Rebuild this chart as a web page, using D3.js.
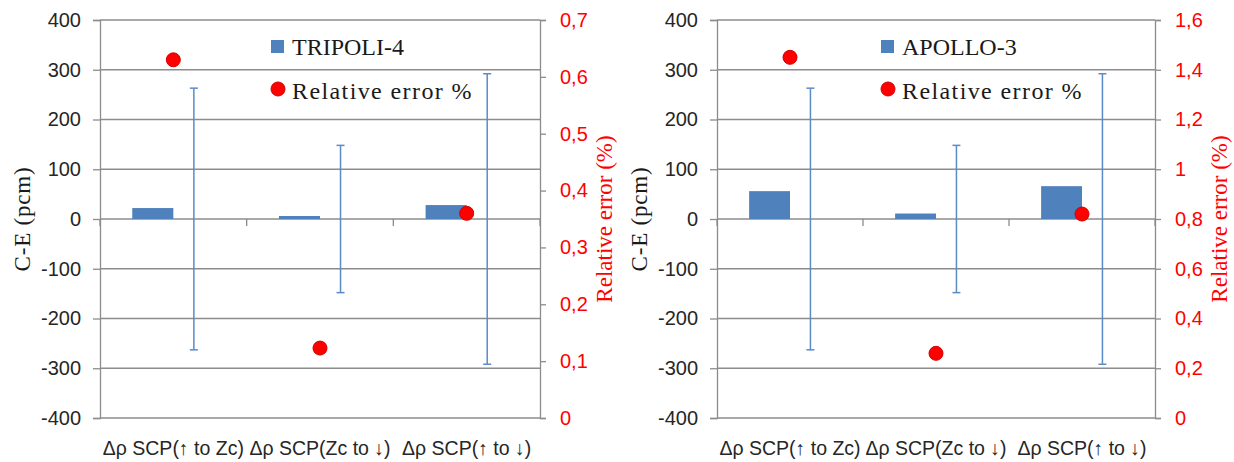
<!DOCTYPE html>
<html>
<head>
<meta charset="utf-8">
<script src="https://cdn.jsdelivr.net/npm/d3@7"></script>
<style>
  body { margin: 0; background: #fff; }
  svg { display: block; }
</style>
</head>
<body>
<div id="chart"></div>
<script>
// values
var categories = ["Δρ SCP(↑ to Zc)", "Δρ SCP(Zc to ↓)", "Δρ SCP(↑ to ↓)"];
var tripoliCE = [22, 6, 28];
var apolloCE = [56, 11, 66];
var expUncertainty = [263, 148, 292];      // error bars around 0 (pcm)
var tripoliRelErr = [0.63, 0.123, 0.36];
var apolloRelErr = [1.45, 0.26, 0.82];
var ceTicks = [-400, -300, -200, -100, 0, 100, 200, 300, 400];
var tripoliErrTicks = [0, 0.1, 0.2, 0.3, 0.4, 0.5, 0.6, 0.7];
var apolloErrTicks = [0, 0.2, 0.4, 0.6, 0.8, 1, 1.2, 1.4, 1.6];

var width = 1234, height = 462;
var top_ = 20, bottom = 418;
var serif = "'Liberation Serif', 'DejaVu Serif', serif";
var sans = "'Liberation Sans', Arial, sans-serif";

var svg = d3.select("#chart")
  .append("svg")
    .attr("width", width)
    .attr("height", height);

var comma = function(d) { return d3.format(".1~f")(d).replace(".", ","); };
var plain = function(d) { return String(d); };   // keep ascii hyphen like Excel

function drawPanel(opts) {
  var g = svg.append("g");

  var x = d3.scaleBand()
    .domain(categories)
    .range([opts.left, opts.right])
    .paddingInner(0.44)
    .paddingOuter(0.22);

  var x1 = d3.scaleBand()
    .domain(["value", "spread"])
    .range([0, x.bandwidth()]);

  var y = d3.scaleLinear()
    .domain([-400, 400])
    .range([bottom, top_]);

  var y2 = d3.scaleLinear()
    .domain([0, d3.max(opts.errTicks)])
    .range([bottom, top_]);

  // gridlines
  g.append("g")
    .selectAll("line")
    .data(ceTicks)
    .join("line")
      .attr("x1", opts.left)
      .attr("x2", opts.right)
      .attr("y1", d => y(d))
      .attr("y2", d => y(d))
      .attr("stroke", "#8c8c8c")
      .attr("stroke-width", 1.3);

  // left axis
  var ya = g.append("g")
    .attr("transform", `translate(${opts.left},0)`)
    .call(d3.axisLeft(y).tickValues(ceTicks).tickSize(7).tickPadding(12).tickFormat(plain));
  ya.select(".domain").attr("stroke", "#8c8c8c").attr("stroke-width", 1.3);
  ya.selectAll(".tick line").attr("stroke", "#8c8c8c").attr("stroke-width", 1.3);
  ya.selectAll("text")
    .style("font-family", sans)
    .style("font-size", "20px")
    .attr("fill", "#262626");

  // right axis
  var yb = g.append("g")
    .attr("transform", `translate(${opts.right},0)`)
    .call(d3.axisRight(y2).tickValues(opts.errTicks).tickSize(6).tickPadding(14).tickFormat(comma));
  yb.select(".domain").attr("stroke", "#8c8c8c").attr("stroke-width", 1.3);
  yb.selectAll(".tick line").attr("stroke", "#8c8c8c").attr("stroke-width", 1.3);
  yb.selectAll("text")
    .style("font-family", sans)
    .style("font-size", "20px")
    .attr("fill", "#ff0000");

  // category tick marks on the zero line
  var bounds = d3.range(categories.length + 1).map(i => opts.left + i * x.step());
  g.append("g")
    .selectAll("line")
    .data(bounds)
    .join("line")
      .attr("x1", d => d)
      .attr("x2", d => d)
      .attr("y1", y(0))
      .attr("y2", y(0) + 7)
      .attr("stroke", "#8c8c8c")
      .attr("stroke-width", 1.3);

  // category labels at the bottom
  g.append("g")
    .selectAll("text")
    .data(categories)
    .join("text")
      .attr("x", d => x(d) + x.bandwidth() / 2)
      .attr("y", 455)
      .attr("text-anchor", "middle")
      .style("font-family", sans)
      .style("font-size", "19.5px")
      .attr("fill", "#262626")
      .text(d => d);

  // bars
  g.append("g")
    .selectAll("rect")
    .data(opts.ce)
    .join("rect")
      .attr("x", (d, i) => x(categories[i]) + x1("value"))
      .attr("y", d => y(Math.max(0, d)))
      .attr("width", x1.bandwidth())
      .attr("height", d => Math.abs(y(d) - y(0)))
      .attr("fill", "#4f81bd");

  // error bars (invisible zero series)
  var eb = g.append("g")
    .selectAll("g")
    .data(expUncertainty)
    .join("g")
      .attr("transform", (d, i) => `translate(${x(categories[i]) + x1("spread") + x1.bandwidth() / 2},0)`)
      .attr("stroke", "#5b8bc7")
      .attr("stroke-width", 1.5);
  eb.append("line")
    .attr("y1", d => y(d))
    .attr("y2", d => y(-d));
  eb.append("line")
    .attr("x1", -4).attr("x2", 4)
    .attr("y1", d => y(d)).attr("y2", d => y(d));
  eb.append("line")
    .attr("x1", -4).attr("x2", 4)
    .attr("y1", d => y(-d)).attr("y2", d => y(-d));

  // relative error points
  g.append("g")
    .selectAll("circle")
    .data(opts.rel)
    .join("circle")
      .attr("cx", (d, i) => x(categories[i]) + x.bandwidth() / 2)
      .attr("cy", d => y2(d))
      .attr("r", 7)
      .attr("fill", "#ff0000")
      .attr("stroke", "#d40000")
      .attr("stroke-width", 1);

  // axis titles
  g.append("text")
    .attr("transform", `translate(${opts.left - 78},${(top_ + bottom) / 2}) rotate(-90)`)
    .attr("text-anchor", "middle")
    .attr("dy", "0.35em")
    .style("font-family", serif)
    .style("font-size", "23px")
    .style("letter-spacing", "0.8px")
    .attr("fill", "#1a1a1a")
    .text("C-E (pcm)");

  g.append("text")
    .attr("transform", `translate(${opts.right + 64},${(top_ + bottom) / 2}) rotate(-90)`)
    .attr("text-anchor", "middle")
    .attr("dy", "0.35em")
    .style("font-family", serif)
    .style("font-size", "23px")
    .attr("fill", "#ff0000")
    .text("Relative error (%)");

  // legend
  var lg = g.append("g").attr("transform", `translate(${opts.legendX},0)`);
  lg.append("rect")
    .attr("x", 0).attr("y", 40)
    .attr("width", 13).attr("height", 13)
    .attr("fill", "#4f81bd");
  lg.append("text")
    .attr("x", 21).attr("y", 55)
    .style("font-family", serif)
    .style("font-size", "24px")
    .attr("fill", "#1a1a1a")
    .text(opts.name);
  lg.append("circle")
    .attr("cx", 7).attr("cy", 89)
    .attr("r", 7)
    .attr("fill", "#ff0000")
    .attr("stroke", "#d40000");
  lg.append("text")
    .attr("x", 21).attr("y", 99)
    .style("font-family", serif)
    .style("font-size", "24px")
    .style("letter-spacing", "1.4px")
    .attr("fill", "#1a1a1a")
    .text("Relative error %");
}

drawPanel({ left: 100, right: 540, ce: tripoliCE, rel: tripoliRelErr,
  errTicks: tripoliErrTicks, name: "TRIPOLI-4", legendX: 271 });
drawPanel({ left: 717, right: 1155, ce: apolloCE, rel: apolloRelErr,
  errTicks: apolloErrTicks, name: "APOLLO-3", legendX: 881 });
</script>
</body>
</html>
